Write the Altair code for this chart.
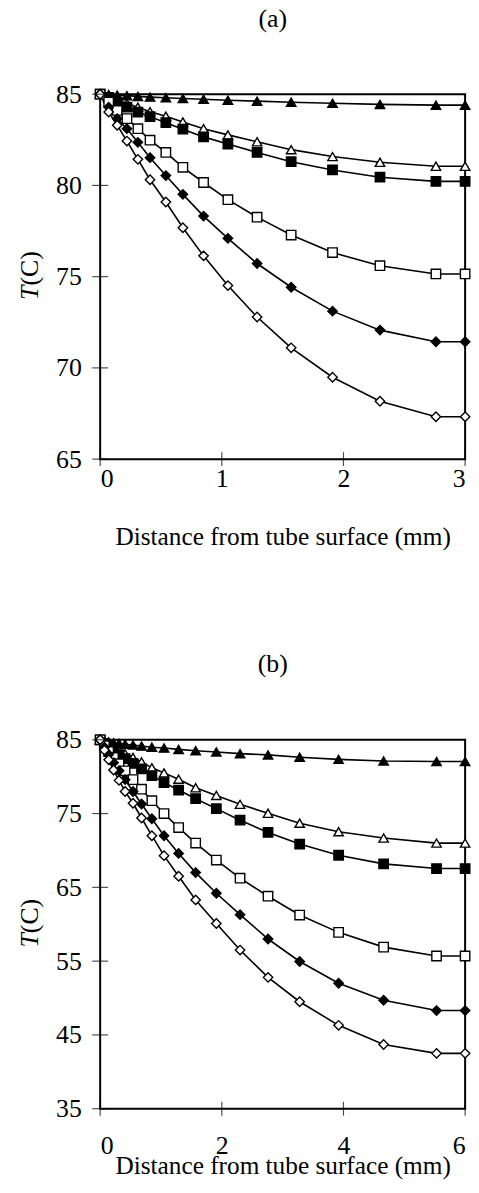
import altair as alt
import pandas as pd

FONT = "Liberation Serif"
FS = 26

series_names = ["s1", "s2", "s3", "s4", "s5", "s6"]
shapes = ["triangle-up", "triangle-up", "square", "square", "diamond", "diamond"]
fills = ["black", "white", "black", "white", "black", "white"]

# Panel (a)
xa = [0, 0.07, 0.14, 0.22, 0.31, 0.41, 0.54, 0.68, 0.85, 1.05, 1.29, 1.57, 1.91, 2.30, 2.76, 3.0]
a1 = [85, 84.98, 84.95, 84.92, 84.88, 84.84, 84.80, 84.76, 84.72, 84.67, 84.62, 84.56, 84.50, 84.44, 84.40, 84.40]
a2 = [85, 84.85, 84.70, 84.49, 84.29, 84.04, 83.79, 83.48, 83.11, 82.77, 82.39, 81.96, 81.58, 81.27, 81.05, 81.05]
a3 = [85, 84.82, 84.57, 84.29, 84.02, 83.77, 83.44, 83.08, 82.66, 82.27, 81.81, 81.30, 80.85, 80.45, 80.22, 80.22]
a4 = [85, 84.57, 84.11, 83.66, 83.11, 82.48, 81.81, 80.99, 80.16, 79.22, 78.26, 77.28, 76.32, 75.60, 75.15, 75.15]
a5 = [85, 84.29, 83.66, 83.11, 82.36, 81.52, 80.54, 79.51, 78.32, 77.10, 75.72, 74.42, 73.11, 72.07, 71.43, 71.43]
a6 = [85, 84.02, 83.30, 82.43, 81.43, 80.31, 79.09, 77.68, 76.14, 74.51, 72.79, 71.10, 69.49, 68.17, 67.32, 67.32]

# Panel (b)
xb = [0, 0.07, 0.14, 0.22, 0.31, 0.41, 0.54, 0.68, 0.85, 1.05, 1.29, 1.57, 1.91, 2.30, 2.76, 3.28, 3.92, 4.66, 5.53, 6.0]
b1 = [85, 84.8, 84.7, 84.6, 84.5, 84.4, 84.3, 84.15, 84.0, 83.88, 83.7, 83.52, 83.34, 83.12, 82.95, 82.63, 82.35, 82.12, 82.05, 82.05]
b2 = [85, 84.65, 84.3, 83.9, 83.5, 83.1, 82.6, 82.0, 81.2, 80.5, 79.66, 78.5, 77.46, 76.25, 75.04, 73.69, 72.54, 71.68, 71.0, 71.0]
b3 = [85, 84.5, 84.0, 83.5, 83.0, 82.45, 81.8, 81.05, 80.15, 79.2, 78.19, 77.02, 75.67, 74.10, 72.44, 70.87, 69.35, 68.18, 67.55, 67.55]
b4 = [85, 84.2, 83.4, 82.6, 81.75, 80.8, 79.6, 78.3, 76.75, 75.0, 73.1, 71.0, 68.7, 66.25, 63.8, 61.25, 58.9, 56.9, 55.7, 55.7]
b5 = [85, 84.0, 83.0, 81.9, 80.8, 79.6, 78.0, 76.3, 74.3, 72.0, 69.6, 67.0, 64.2, 61.3, 58.0, 54.95, 52.0, 49.7, 48.3, 48.3]
b6 = [85, 83.6, 82.3, 80.9, 79.5, 78.0, 76.4, 74.4, 72.0, 69.3, 66.5, 63.3, 60.1, 56.5, 52.8, 49.5, 46.3, 43.7, 42.5, 42.5]

xa_ticks = [0, 1, 2, 3]
ya_ticks = [65, 70, 75, 80, 85]
xb_ticks = [0, 2, 4, 6]
yb_ticks = [35, 45, 55, 65, 75, 85]

XTITLE = "Distance from tube surface (mm)"


def long_form(x, ys):
    rows = []
    for name, y in zip(series_names, ys):
        for xi, yi in zip(x, y):
            rows.append({"x": xi, "T": yi, "series": name})
    return pd.DataFrame(rows)


def panel(df, label, xdom, xticks, ydom, yticks, w, h, xlabpad, xtitley):
    xs = alt.Scale(domain=xdom, nice=False, zero=False)
    ys = alt.Scale(domain=ydom, nice=False, zero=False)
    xaxis = alt.Axis(values=xticks, ticks=False, tickSize=0, domain=False, grid=False,
                     labelFont=FONT, labelFontSize=FS, labelColor="black",
                     labelBaseline="alphabetic", labelPadding=xlabpad, format="d",
                     title=XTITLE, titleFont=FONT, titleFontSize=25.5, titleFontWeight="normal",
                     titleColor="black", titleBaseline="alphabetic", titleY=xtitley)
    yaxis = alt.Axis(values=yticks, ticks=False, tickSize=0, domain=False, grid=False,
                     labelFont=FONT, labelFontSize=FS, labelColor="black",
                     labelPadding=19, format="d", title=None)
    X = alt.X("x:Q", scale=xs, axis=xaxis)
    Y = alt.Y("T:Q", scale=ys, axis=yaxis)

    lines = alt.Chart(df).mark_line(color="black", strokeWidth=1.6).encode(
        x=X, y=Y, detail="series:N")
    pts = alt.Chart(df).mark_point(filled=True, stroke="black", strokeWidth=1.4,
                                   opacity=1, fillOpacity=1, size=90).encode(
        x=X, y=Y,
        shape=alt.Shape("series:N", scale=alt.Scale(domain=series_names, range=shapes), legend=None),
        fill=alt.Fill("series:N", scale=alt.Scale(domain=series_names, range=fills), legend=None),
    )
    xt = alt.Chart(pd.DataFrame({"x": xticks})).mark_tick(
        orient="vertical", color="black", size=14, thickness=1.2).encode(
        x=X, y=alt.value(h))
    yt = alt.Chart(pd.DataFrame({"T": yticks})).mark_tick(
        orient="horizontal", color="black", size=16, thickness=1.2).encode(
        y=Y, x=alt.value(0))
    one = pd.DataFrame({"k": [0]})
    t_it = alt.Chart(one).mark_text(text="T", font=FONT, fontStyle="italic", fontSize=FS,
                                    angle=270, align="right", baseline="middle",
                                    color="black").encode(
        x=alt.value(-71), y=alt.value(h / 2 + 9))
    t_rest = alt.Chart(one).mark_text(text="(C)", font=FONT, fontSize=FS,
                                      angle=270, align="left", baseline="middle",
                                      color="black").encode(
        x=alt.value(-71), y=alt.value(h / 2 + 9))
    return alt.layer(lines, pts, xt, yt, t_it, t_rest).properties(
        width=w, height=h,
        title=alt.TitleParams(label, font=FONT, fontSize=FS, fontWeight="normal",
                              color="black", baseline="alphabetic", offset=29,
                              anchor="middle", frame="group", dx=-10),
    )


pa = panel(long_form(xa, [a1, a2, a3, a4, a5, a6]), "(a)", [0, 3], xa_ticks,
           [65, 85], ya_ticks, 368, 368, 28, 86)
pb = panel(long_form(xb, [b1, b2, b3, b4, b5, b6]), "(b)", [0, 6], xb_ticks,
           [35, 85], yb_ticks, 368, 372, 45, 65)

chart = alt.vconcat(pa, pb, spacing=100).properties(
    padding={"left": 16, "top": 0, "right": 5, "bottom": 5}
).configure(
    view=alt.ViewConfig(stroke="black", strokeWidth=2)
)

chart.save("out.html", embed_options={"renderer": "svg", "actions": False})
